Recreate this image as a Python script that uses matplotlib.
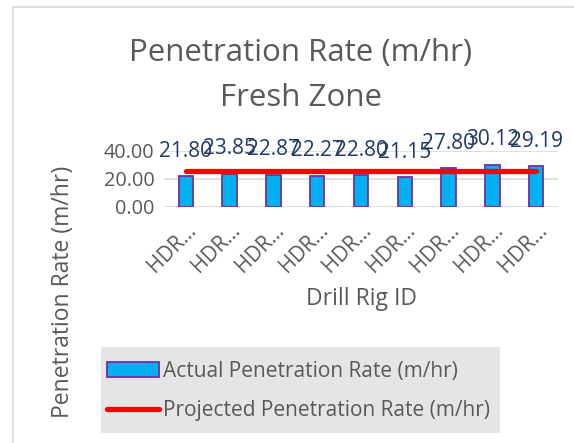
import matplotlib
matplotlib.use('Agg')
import matplotlib.pyplot as plt
from matplotlib.patches import Rectangle, Patch
from matplotlib.lines import Line2D

# data
rigs = ['HDR…'] * 9
actual = [21.80, 23.85, 22.87, 22.27, 22.80, 21.15, 27.80, 30.12, 29.19]
projected = [25.8] * 9
yticks = [0, 20, 40]

plt.rcParams['font.family'] = ['Open Sans', 'DejaVu Sans']
grey = '#595959'

W, H = 574, 443
fig = plt.figure(figsize=(W / 100, H / 100), dpi=100)


def px(x0, y0, x1, y1):
    # pixel box (top-left origin) -> figure fractions
    return [x0 / W, 1 - y1 / H, (x1 - x0) / W, (y1 - y0) / H]


# chart border
fig.patches.append(Rectangle((12.5 / W, -0.1), 1.2, 1 - 6.5 / H + 0.1, transform=fig.transFigure,
                             fill=False, edgecolor='#D9D9D9', lw=1.2))

ax = fig.add_axes(px(164, 151, 558, 207))
x = list(range(len(rigs)))
ax.bar(x, actual, width=0.33, color='#00B0F0', edgecolor='#7030A0', lw=1.3, zorder=3)
ax.plot(x, projected, color='#FF0000', lw=3.8, solid_capstyle='round', zorder=4)

for xi, v in zip(x, actual):
    ax.annotate(f'{v:.2f}', (xi, v), xytext=(0, 18), textcoords='offset points',
                ha='center', va='center', fontsize=15, color='#203864', zorder=5)

ax.set_xlim(-0.5, len(rigs) - 0.5)
ax.set_ylim(0, 40)
ax.set_yticks(yticks)
ax.set_yticklabels([f'{v:.2f}' for v in yticks])
ax.set_xticks(x)
ax.set_xticklabels(rigs, rotation=45, ha='right', va='top', rotation_mode='anchor')
ax.tick_params(axis='both', length=0, labelsize=14.3, colors=grey, pad=7)
ax.tick_params(axis='x', pad=9, labelsize=15)
ax.grid(axis='y', color='#D9D9D9', lw=1.2, zorder=0)
for s in ax.spines.values():
    s.set_visible(False)

fig.text(301 / W, 1 - 53 / H, 'Penetration Rate (m/hr)', ha='center', va='center',
         fontsize=22.5, color=grey)
fig.text(301 / W, 1 - 98 / H, 'Fresh Zone', ha='center', va='center',
         fontsize=22.5, color=grey)
fig.text(361 / W, 1 - 299 / H, 'Drill Rig ID', ha='center', va='center',
         fontsize=16.5, color=grey)
fig.text(63 / W, 1 - 292 / H, 'Penetration Rate (m/hr)', ha='center', va='center',
         rotation=90, fontsize=16.5, color=grey)

# legend
fig.patches.append(Rectangle((101 / W, 1 - 433 / H), 399 / W, 86 / H, transform=fig.transFigure,
                             facecolor='#E5E5E5', edgecolor='none'))
handles = [Patch(facecolor='#00B0F0', edgecolor='#7030A0', lw=1.3),
           Line2D([], [], color='#FF0000', lw=3.8, solid_capstyle='round')]
labels = ['Actual Penetration Rate (m/hr)', 'Projected Penetration Rate (m/hr)']
fig.legend(handles, labels, loc='center left', bbox_to_anchor=(107 / W, 1 - 391 / H),
           frameon=False, fontsize=15, labelcolor=grey, handlelength=2.5, handleheight=0.7,
           handletextpad=0.2, labelspacing=0.9, borderpad=0, borderaxespad=0)

fig.savefig('out.png', dpi=100)
